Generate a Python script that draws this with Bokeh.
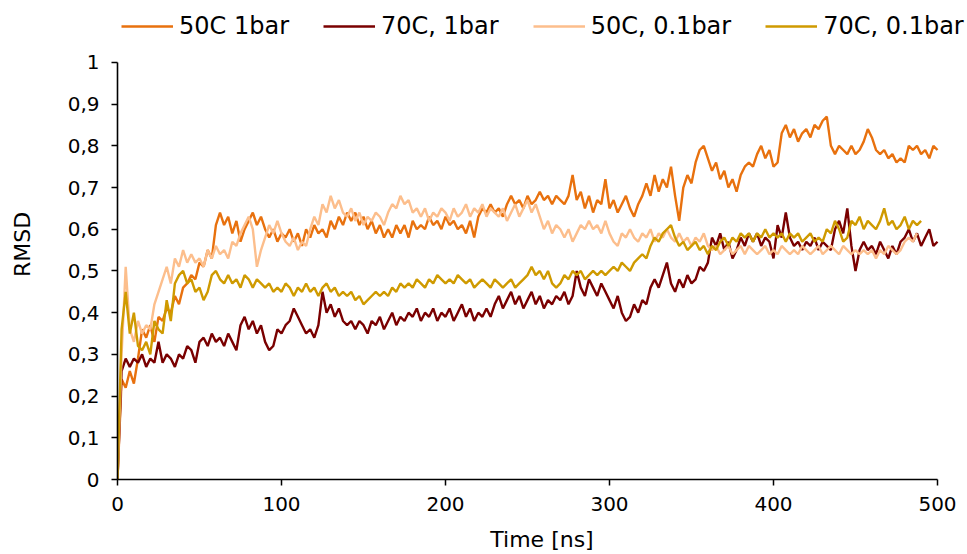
from bokeh.plotting import figure
from bokeh.models import Range1d, FixedTicker, Legend, LegendItem
from bokeh.embed import file_html
from bokeh.resources import INLINE

# ---------------- data ----------------
TIME_NS = [
    0, 2.5, 5, 7.5, 10, 12.5, 15, 17.5, 20, 22.5, 25, 27.5, 30, 32.5, 35, 37.5, 40, 42.5, 45, 47.5,
    50, 52.5, 55, 57.5, 60, 62.5, 65, 67.5, 70, 72.5, 75, 77.5, 80, 82.5, 85, 87.5, 90, 92.5, 95, 97.5,
    100, 102.5, 105, 107.5, 110, 112.5, 115, 117.5, 120, 122.5, 125, 127.5, 130, 132.5, 135, 137.5, 140, 142.5, 145, 147.5,
    150, 152.5, 155, 157.5, 160, 162.5, 165, 167.5, 170, 172.5, 175, 177.5, 180, 182.5, 185, 187.5, 190, 192.5, 195, 197.5,
    200, 202.5, 205, 207.5, 210, 212.5, 215, 217.5, 220, 222.5, 225, 227.5, 230, 232.5, 235, 237.5, 240, 242.5, 245, 247.5,
    250, 252.5, 255, 257.5, 260, 262.5, 265, 267.5, 270, 272.5, 275, 277.5, 280, 282.5, 285, 287.5, 290, 292.5, 295, 297.5,
    300, 302.5, 305, 307.5, 310, 312.5, 315, 317.5, 320, 322.5, 325, 327.5, 330, 332.5, 335, 337.5, 340, 342.5, 345, 347.5,
    350, 352.5, 355, 357.5, 360, 362.5, 365, 367.5, 370, 372.5, 375, 377.5, 380, 382.5, 385, 387.5, 390, 392.5, 395, 397.5,
    400, 402.5, 405, 407.5, 410, 412.5, 415, 417.5, 420, 422.5, 425, 427.5, 430, 432.5, 435, 437.5, 440, 442.5, 445, 447.5,
    450, 452.5, 455, 457.5, 460, 462.5, 465, 467.5, 470, 472.5, 475, 477.5, 480, 482.5, 485, 487.5, 490, 492.5, 495, 497.5,
    500,
]

SERIES_NAMES = ["50C 1bar", "70C, 1bar", "50C, 0.1bar", "70C, 0.1bar"]

RMSD_50C_1BAR = [
    0.0, 0.24, 0.22, 0.26, 0.23, 0.29, 0.36, 0.34, 0.37, 0.33, 0.39, 0.38, 0.41, 0.40, 0.44, 0.42, 0.46, 0.47, 0.49, 0.48,
    0.52, 0.51, 0.55, 0.53, 0.61, 0.64, 0.61, 0.63, 0.59, 0.62, 0.57, 0.60, 0.62, 0.64, 0.61, 0.63, 0.60, 0.58, 0.60, 0.57,
    0.59, 0.58, 0.60, 0.57, 0.59, 0.56, 0.60, 0.58, 0.61, 0.59, 0.60, 0.58, 0.62, 0.60, 0.63, 0.61, 0.64, 0.62, 0.64, 0.61,
    0.63, 0.60, 0.62, 0.59, 0.61, 0.58, 0.60, 0.58, 0.61, 0.59, 0.61, 0.58, 0.62, 0.60, 0.61, 0.60, 0.63, 0.61, 0.62, 0.60,
    0.63, 0.61, 0.62, 0.60, 0.61, 0.59, 0.62, 0.58, 0.63, 0.65, 0.64, 0.66, 0.64, 0.65, 0.63, 0.66, 0.68, 0.66, 0.67, 0.65,
    0.68, 0.66, 0.67, 0.69, 0.67, 0.68, 0.66, 0.68, 0.67, 0.66, 0.68, 0.73, 0.67, 0.69, 0.65, 0.68, 0.64, 0.67, 0.66, 0.72,
    0.65, 0.67, 0.64, 0.66, 0.68, 0.65, 0.63, 0.66, 0.68, 0.71, 0.68, 0.73, 0.69, 0.72, 0.70, 0.75, 0.68, 0.62, 0.70, 0.73,
    0.71, 0.76, 0.79, 0.80, 0.77, 0.74, 0.76, 0.72, 0.74, 0.70, 0.72, 0.69, 0.73, 0.75, 0.76, 0.75, 0.78, 0.80, 0.77, 0.79,
    0.75, 0.76, 0.83, 0.85, 0.82, 0.84, 0.81, 0.83, 0.84, 0.82, 0.85, 0.84, 0.86, 0.87, 0.80, 0.78, 0.80, 0.79, 0.78, 0.80,
    0.78, 0.79, 0.81, 0.84, 0.82, 0.79, 0.78, 0.79, 0.77, 0.78, 0.76, 0.77, 0.76, 0.80, 0.79, 0.80, 0.78, 0.79, 0.77, 0.80,
    0.79,
]

RMSD_70C_1BAR = [
    0.0, 0.26, 0.29, 0.27, 0.29, 0.28, 0.30, 0.27, 0.29, 0.28, 0.33, 0.28, 0.30, 0.29, 0.27, 0.30, 0.29, 0.32, 0.31, 0.28,
    0.33, 0.34, 0.32, 0.35, 0.33, 0.34, 0.32, 0.35, 0.33, 0.31, 0.37, 0.39, 0.36, 0.38, 0.35, 0.37, 0.33, 0.31, 0.32, 0.36,
    0.35, 0.37, 0.38, 0.41, 0.39, 0.37, 0.35, 0.36, 0.34, 0.37, 0.45, 0.40, 0.42, 0.39, 0.41, 0.38, 0.37, 0.38, 0.36, 0.38,
    0.37, 0.35, 0.38, 0.37, 0.39, 0.36, 0.38, 0.40, 0.37, 0.39, 0.38, 0.40, 0.39, 0.41, 0.38, 0.40, 0.39, 0.41, 0.38, 0.40,
    0.39, 0.41, 0.38, 0.40, 0.42, 0.39, 0.41, 0.38, 0.40, 0.39, 0.41, 0.39, 0.42, 0.44, 0.41, 0.43, 0.45, 0.42, 0.44, 0.41,
    0.43, 0.45, 0.42, 0.44, 0.41, 0.43, 0.42, 0.44, 0.43, 0.45, 0.42, 0.44, 0.50, 0.46, 0.44, 0.48, 0.46, 0.44, 0.47, 0.45,
    0.43, 0.41, 0.44, 0.40, 0.38, 0.39, 0.42, 0.40, 0.43, 0.42, 0.46, 0.48, 0.46, 0.49, 0.52, 0.47, 0.45, 0.48, 0.46, 0.49,
    0.47, 0.48, 0.51, 0.50, 0.52, 0.58, 0.56, 0.59, 0.55, 0.57, 0.53, 0.55, 0.58, 0.56, 0.59, 0.57, 0.59, 0.56, 0.58, 0.57,
    0.53, 0.61, 0.58, 0.64, 0.58, 0.56, 0.57, 0.55, 0.57, 0.56, 0.58, 0.55, 0.57, 0.56, 0.55, 0.60, 0.62, 0.59, 0.65, 0.56,
    0.50, 0.55, 0.57, 0.55, 0.56, 0.54, 0.57, 0.55, 0.53, 0.56, 0.54, 0.57, 0.58, 0.60, 0.57, 0.59, 0.56, 0.58, 0.60, 0.56,
    0.57,
]

RMSD_50C_01BAR = [
    0.0, 0.30, 0.51, 0.36, 0.33, 0.38, 0.35, 0.37, 0.36, 0.42, 0.45, 0.48, 0.51, 0.47, 0.53, 0.51, 0.55, 0.52, 0.54, 0.52,
    0.53, 0.51, 0.55, 0.53, 0.56, 0.54, 0.55, 0.53, 0.57, 0.56, 0.59, 0.61, 0.63, 0.60, 0.51, 0.55, 0.58, 0.61, 0.59, 0.62,
    0.59, 0.57, 0.56, 0.58, 0.55, 0.57, 0.56, 0.60, 0.63, 0.61, 0.66, 0.64, 0.68, 0.65, 0.67, 0.64, 0.63, 0.65, 0.62, 0.64,
    0.61, 0.63, 0.62, 0.64, 0.63, 0.61, 0.64, 0.66, 0.65, 0.68, 0.66, 0.67, 0.64, 0.65, 0.63, 0.65, 0.62, 0.64, 0.63, 0.65,
    0.64, 0.62, 0.65, 0.63, 0.64, 0.66, 0.63, 0.65, 0.64, 0.66, 0.63, 0.65, 0.64, 0.63, 0.65, 0.62, 0.64, 0.66, 0.63, 0.65,
    0.67, 0.64, 0.66, 0.63, 0.60, 0.62, 0.59, 0.61, 0.60, 0.58, 0.60, 0.57, 0.59, 0.61, 0.60, 0.62, 0.60, 0.61, 0.59, 0.62,
    0.59, 0.57, 0.56, 0.59, 0.58, 0.60, 0.58, 0.57, 0.59, 0.58, 0.60, 0.57, 0.59, 0.58, 0.60, 0.58, 0.57, 0.59, 0.57, 0.58,
    0.56, 0.58, 0.57, 0.59, 0.56, 0.55, 0.56, 0.54, 0.55, 0.56, 0.54, 0.55, 0.56, 0.54, 0.56, 0.55, 0.54, 0.55, 0.56, 0.54,
    0.55, 0.54, 0.56, 0.55, 0.54, 0.55, 0.54, 0.56, 0.55, 0.54, 0.55, 0.56, 0.54, 0.55, 0.56, 0.55, 0.54, 0.56, 0.55, 0.54,
    0.55, 0.54, 0.55, 0.54, 0.55, 0.53, 0.55, 0.54, 0.56, 0.55, 0.54, 0.55, 0.57, 0.58, 0.57, 0.59,
]

RMSD_70C_01BAR = [
    0.0, 0.36, 0.45, 0.35, 0.40, 0.32, 0.31, 0.33, 0.30, 0.38, 0.36, 0.35, 0.43, 0.38, 0.47, 0.49, 0.50, 0.47, 0.48, 0.45,
    0.46, 0.43, 0.45, 0.49, 0.50, 0.48, 0.47, 0.49, 0.47, 0.48, 0.46, 0.49, 0.48, 0.46, 0.48, 0.47, 0.46, 0.47, 0.45, 0.46,
    0.45, 0.47, 0.46, 0.44, 0.46, 0.45, 0.47, 0.45, 0.46, 0.44, 0.46, 0.47, 0.45, 0.46, 0.44, 0.45, 0.44, 0.45, 0.43, 0.44,
    0.42, 0.43, 0.44, 0.45, 0.44, 0.45, 0.44, 0.46, 0.45, 0.47, 0.46, 0.47, 0.46, 0.48, 0.47, 0.46, 0.48, 0.47, 0.49, 0.48,
    0.47, 0.48, 0.47, 0.49, 0.48, 0.47, 0.48, 0.46, 0.47, 0.48, 0.47, 0.46, 0.48, 0.47, 0.46, 0.47, 0.48, 0.46, 0.47, 0.48,
    0.49, 0.51, 0.49, 0.50, 0.48, 0.50, 0.47, 0.46, 0.47, 0.49, 0.48, 0.50, 0.49, 0.50, 0.48, 0.49, 0.50, 0.49, 0.50, 0.49,
    0.50, 0.51, 0.50, 0.52, 0.51, 0.50, 0.52, 0.53, 0.54, 0.53, 0.56, 0.58, 0.57, 0.59, 0.60, 0.61, 0.58, 0.56, 0.57, 0.55,
    0.56, 0.57, 0.55, 0.56, 0.54, 0.56, 0.55, 0.57, 0.58, 0.56, 0.58, 0.57, 0.59, 0.58, 0.59, 0.57, 0.59, 0.58, 0.60, 0.58,
    0.59, 0.58, 0.59, 0.57, 0.59, 0.58, 0.59, 0.57, 0.58, 0.59, 0.57, 0.58, 0.57, 0.60, 0.59, 0.62, 0.60, 0.57, 0.58, 0.62,
    0.61, 0.63, 0.60, 0.62, 0.61, 0.60, 0.62, 0.65, 0.61, 0.62, 0.60, 0.61, 0.63, 0.60, 0.62, 0.61, 0.62,
]

SERIES_COLORS = ["#E8710E", "#7A0000", "#FCBE8C", "#CF9A00"]

X_TICKS = [0, 100, 200, 300, 400, 500]
Y_TICKS = [0, 0.1, 0.2, 0.3, 0.4, 0.5, 0.6, 0.7, 0.8, 0.9, 1]
Y_TICK_LABELS = ["0", "0,1", "0,2", "0,3", "0,4", "0,5", "0,6", "0,7", "0,8", "0,9", "1"]

FONT = "DejaVu Sans"

# Layout: the frame is extended above value 1 and right of 500 ns so the legend
# can sit inside it (value 1 -> y=62 px, 500 ns -> x=937 px as in the reference);
# the axis lines are bounded to the data extents.
FRAME_LEFT, FRAME_RIGHT, FRAME_TOP, FRAME_BOTTOM = 117, 966, 9, 480
PX_PER_NS = (937 - 117) / 500.0
PX_PER_UNIT = (480 - 62) / 1.0
X_END = (FRAME_RIGHT - FRAME_LEFT) / PX_PER_NS
Y_END = (FRAME_BOTTOM - FRAME_TOP) / PX_PER_UNIT

p = figure(
    width=967, height=554,
    output_backend="svg", toolbar_location=None,
    x_range=Range1d(0, X_END), y_range=Range1d(0, Y_END),
    min_border_left=FRAME_LEFT, min_border_right=967 - FRAME_RIGHT,
    min_border_top=FRAME_TOP, min_border_bottom=554 - FRAME_BOTTOM,
)
p.outline_line_color = None
p.xgrid.visible = False
p.ygrid.visible = False
p.background_fill_color = "white"
p.border_fill_color = "white"

all_series = [RMSD_50C_1BAR, RMSD_70C_1BAR, RMSD_50C_01BAR, RMSD_70C_01BAR]
items = []
for name, vals, col in zip(SERIES_NAMES, all_series, SERIES_COLORS):
    r = p.line(TIME_NS[:len(vals)], vals, line_color=col, line_width=2.4)
    items.append(LegendItem(label=name, renderers=[r]))

for ax in (p.xaxis[0], p.yaxis[0]):
    ax.axis_line_color = "black"
    ax.axis_line_width = 1.6
    ax.major_tick_line_color = "black"
    ax.major_tick_line_width = 1.5
    ax.major_tick_in = 0
    ax.major_tick_out = 6
    ax.minor_tick_line_color = None
    ax.major_label_text_font = FONT
    ax.major_label_text_font_size = "20px"
    ax.major_label_text_color = "black"
    ax.axis_label_text_font = FONT
    ax.axis_label_text_font_size = "22px"
    ax.axis_label_text_font_style = "normal"
    ax.axis_label_text_color = "black"

p.xaxis.bounds = (0, 500)
p.yaxis.bounds = (0, 1)
p.xaxis.ticker = FixedTicker(ticks=X_TICKS)
p.yaxis.ticker = FixedTicker(ticks=Y_TICKS)
p.yaxis.major_label_overrides = {t: lab for t, lab in zip(Y_TICKS, Y_TICK_LABELS)}
p.xaxis.axis_label = "Time [ns]"
p.yaxis.axis_label = "RMSD"
p.xaxis.major_label_standoff = 11
p.xaxis.axis_label_standoff = 13
p.yaxis.major_label_standoff = 12
p.yaxis.axis_label_standoff = 30

legend = Legend(
    items=items,
    orientation="horizontal",
    location=(4, 439),
    label_text_font=FONT,
    label_text_font_size="24px",
    label_text_color="black",
    glyph_width=52,
    glyph_height=20,
    label_standoff=6,
    spacing=34,
    padding=0,
    margin=0,
    border_line_color=None,
    background_fill_alpha=0,
)
p.add_layout(legend)

open("out.html", "w").write(file_html(p, INLINE))
